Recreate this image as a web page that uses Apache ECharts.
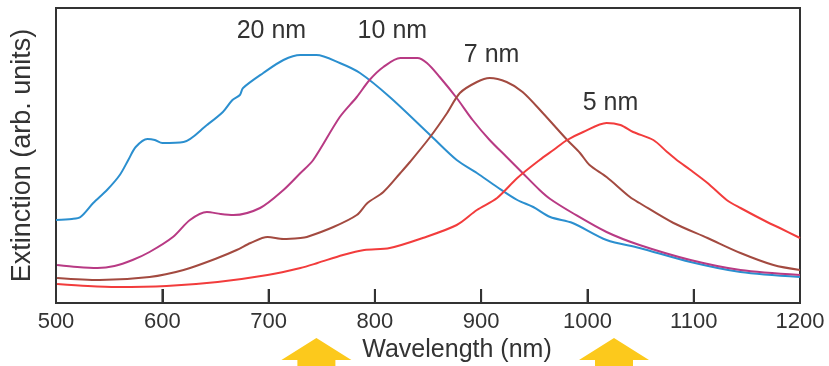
<!DOCTYPE html>
<html>
<head>
<meta charset="utf-8">
<script src="https://cdn.jsdelivr.net/npm/echarts@6/dist/echarts.min.js"></script>
<style>
    html, body { margin: 0; padding: 0; background: #fff; }
    #chart { width: 829px; height: 366px; }
</style>
</head>
<body>
<div id="chart"></div>
<script>
// 20 nm 曲线
const NM20_X = [500, 515, 523, 535, 548, 560, 568, 575, 586, 593, 600, 620, 642, 657, 666, 673, 676, 695, 714, 730, 745, 767, 786, 814, 852, 877, 896, 915, 934, 949, 965, 986, 1018, 1049, 1097, 1144, 1200];
const NM20_Y = [83, 84, 86, 100, 113, 128, 143, 156, 164, 163, 160, 161, 178, 191, 203, 208, 215, 230, 243, 248, 248, 240, 230, 206, 168, 143, 130, 116, 103, 96, 86, 80, 63, 55, 41, 31, 26];

// 10 nm 曲线
const NM10_X = [501, 520, 539, 555, 572, 588, 610, 626, 642, 655, 667, 692, 714, 730, 742, 767, 783, 795, 808, 824, 840, 849, 861, 877, 892, 908, 924, 939, 955, 965, 986, 1018, 1049, 1097, 1144, 1200];
const NM10_Y = [38, 36, 35, 37, 43, 51, 66, 83, 91, 89, 88, 95, 113, 130, 143, 186, 206, 223, 236, 245, 245, 240, 226, 205, 183, 163, 146, 130, 113, 104, 90, 71, 58, 43, 33, 28];

// 7 nm 曲线
const NM7_X = [501, 541, 588, 620, 652, 670, 683, 699, 714, 730, 736, 761, 783, 793, 808, 824, 833, 852, 868, 880, 896, 908, 924, 939, 958, 981, 993, 1002, 1018, 1040, 1049, 1081, 1113, 1144, 1175, 1200];
const NM7_Y = [25, 23, 26, 33, 45, 53, 60, 66, 64, 65, 66, 76, 88, 100, 111, 130, 141, 166, 190, 210, 221, 225, 221, 211, 190, 163, 150, 138, 126, 106, 100, 80, 65, 50, 38, 33];

// 5 nm 曲线
const NM5_X = [501, 530, 557, 604, 652, 699, 730, 746, 770, 790, 814, 845, 877, 896, 915, 934, 955, 968, 981, 996, 1018, 1031, 1043, 1062, 1075, 1084, 1097, 1113, 1131, 1144, 1169, 1181, 1200];
const NM5_Y = [19, 17, 16, 17, 21, 28, 35, 40, 48, 53, 55, 65, 78, 93, 105, 125, 143, 153, 163, 171, 180, 178, 171, 163, 151, 143, 133, 120, 103, 95, 81, 75, 65];

// 图例文字 / 颜色
const SIZE_LABELS = ['20 nm', '10 nm', '7 nm', '5 nm'];
const COLORS = ['#2b8fcf', '#b83a84', '#a34a40', '#f23c3c'];
// 黄色箭头所指波长
const ARROW_WAVELENGTHS = [745, 1025];

// x 轴范围
const X_MIN = 500;
const X_MAX = 1200;
const X_STEP = 100;

const FONT = 'Liberation Sans';
const TEXT_COLOR = '#333';

function zip(xs, ys) {
    return xs.map((x, i) => [x, ys[i]]);
}

const curves = [
    zip(NM20_X, NM20_Y),
    zip(NM10_X, NM10_Y),
    zip(NM7_X, NM7_Y),
    zip(NM5_X, NM5_Y)
];

// 内部刻度位置
const tickValues = [];
for (let v = X_MIN + X_STEP; v < X_MAX; v += X_STEP) tickValues.push([v, 0]);

// 峰值标签相对偏移
const labelOffsets = [[-29, -24], [-8, -27], [2, -23], [4, -20]];

const chart = echarts.init(document.getElementById('chart'));

const lineSeries = curves.map((data, i) => ({
    type: 'line',
    name: SIZE_LABELS[i],
    data,
    smooth: 0.3,
    symbol: 'none',
    lineStyle: { color: COLORS[i], width: 2 },
    markPoint: {
        symbol: 'circle',
        symbolSize: 0,
        data: [{ type: 'max', valueDim: 'y', name: SIZE_LABELS[i] }],
        label: {
            show: true,
            formatter: SIZE_LABELS[i],
            position: 'inside',
            offset: labelOffsets[i],
            fontSize: 25,
            color: TEXT_COLOR,
            fontFamily: FONT
        }
    }
}));

// 用散点画向内的刻度线
const tickSeries = {
    type: 'scatter',
    data: tickValues,
    symbol: 'rect',
    symbolSize: [2, 14],
    symbolOffset: [0, -7],
    itemStyle: { color: '#333' },
    clip: false,
    silent: true,
    z: 100
};

const option = {
    animation: false,
    grid: {
        left: 56, right: 29, top: 8, bottom: 63,
        outerBoundsMode: 'none',
        containLabel: false,
        show: true, borderColor: '#333', borderWidth: 2
    },
    xAxis: {
        type: 'value',
        min: X_MIN, max: X_MAX, interval: X_STEP,
        axisLine: { lineStyle: { color: '#333', width: 2 } },
        axisTick: { show: true, inside: true, length: 14, lineStyle: { color: '#333', width: 2 } },
        axisLabel: {
            fontSize: 22, color: TEXT_COLOR, fontFamily: FONT, margin: 8,
            formatter: v => String(v)
        },
        splitLine: { show: false }
    },
    yAxis: {
        type: 'value',
        min: 0, max: 295,
        name: 'Extinction (arb. units)',
        nameLocation: 'middle',
        nameRotate: 90,
        nameGap: 20,
        nameMoveOverlap: false,
        nameTextStyle: { fontSize: 27, color: TEXT_COLOR, fontFamily: FONT },
        axisLine: { show: true, lineStyle: { color: '#333', width: 2 } },
        axisTick: { show: false },
        axisLabel: { show: false },
        splitLine: { show: false }
    },
    series: lineSeries.concat([tickSeries])
};

chart.setOption(option);

const graphics = [];

// x 轴标题（略偏右）
const base = chart.convertToPixel({ gridIndex: 0 }, [X_MIN, 0]);
graphics.push({
    type: 'text',
    x: 457,
    y: base[1] + 47,
    style: {
        text: 'Wavelength (nm)',
        fontSize: 25,
        fontFamily: FONT,
        fill: TEXT_COLOR,
        align: 'center',
        verticalAlign: 'middle'
    }
});

// 黄色箭头
ARROW_WAVELENGTHS.forEach(w => {
    const cx = chart.convertToPixel({ gridIndex: 0 }, [w, 0])[0];
    const tip = 338;
    graphics.push({
        type: 'polygon',
        shape: {
            points: [
                [cx, tip], [cx + 35, tip + 22], [cx + 19, tip + 22], [cx + 19, tip + 40],
                [cx - 19, tip + 40], [cx - 19, tip + 22], [cx - 35, tip + 22]
            ]
        },
        style: { fill: '#fcc91c' },
        z: 1
    });
});

chart.setOption({ graphic: graphics });
</script>
</body>
</html>
